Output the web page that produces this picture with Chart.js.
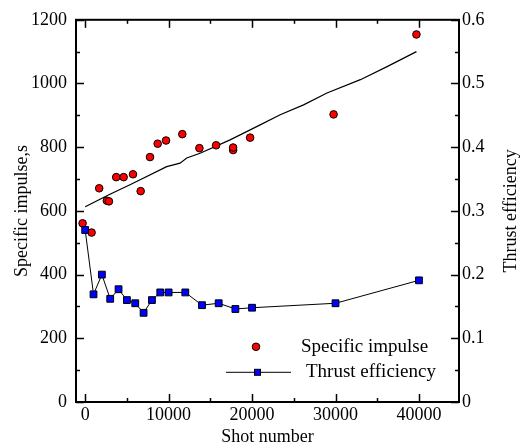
<!DOCTYPE html>
<html><head><meta charset="utf-8">
<script src="https://cdn.jsdelivr.net/npm/chart.js@4/dist/chart.umd.min.js"></script>
<style>html,body{margin:0;padding:0;background:#fff}#wrap{width:521px;height:447px}</style>
</head><body><div id="wrap"><canvas id="c" width="521" height="447"></canvas></div>
<script>
// ---- data ----
const impulseShots = [-310, 770, 1680, 2600, 2850, 3720, 4610, 5730, 6650, 7770, 8690, 9690, 11640, 13690, 15690, 17730, 17730, 19770, 29770, 39700];
const specificImpulse = [561, 532, 671, 632, 630, 706, 706, 715, 662, 769, 811, 821, 841, 797, 806, 791, 799, 830, 903, 1154];
const trendShots = [0, 2970, 5370, 9770, 11370, 12170, 13770, 17370, 20970, 23370, 26170, 28980, 32980, 36180, 39700];
const trendImpulse = [613, 652, 682, 739, 750, 766, 781, 823, 870, 902, 933, 970, 1012, 1053, 1100];
const effShots = [0, 1000, 2000, 3000, 4000, 5000, 6000, 7000, 8000, 9000, 10000, 12000, 14000, 16000, 18000, 20000, 30000, 40000];
const thrustEfficiency = [0.270, 0.169, 0.200, 0.162, 0.177, 0.160, 0.155, 0.140, 0.160, 0.172, 0.172, 0.172, 0.152, 0.155, 0.146, 0.148, 0.155, 0.191];

const xTicks = [0, 10000, 20000, 30000, 40000];
const xTickLabels = ['0', '10000', '20000', '30000', '40000'];
const xMinorTicks = [5000, 15000, 25000, 35000];
const yTicks = [0, 200, 400, 600, 800, 1000, 1200];
const yTickLabels = ['0', '200', '400', '600', '800', '1000', '1200'];
const yMinorTicks = [100, 300, 500, 700, 900, 1100];
const y1Ticks = [0, 0.1, 0.2, 0.3, 0.4, 0.5, 0.6];
const y1TickLabels = ['0', '0.1', '0.2', '0.3', '0.4', '0.5', '0.6'];
const y1MinorTicks = [0.05, 0.15, 0.25, 0.35, 0.45, 0.55];

const FONT = "'Liberation Serif', 'Times New Roman', serif";
Chart.defaults.font.family = FONT;
Chart.defaults.color = '#000';

const frameTicks = {
  id: 'frameTicks',
  afterDraw(chart) {
    const ctx = chart.ctx, a = chart.chartArea;
    const sx = chart.scales.x, sy = chart.scales.y, sy1 = chart.scales.y1;
    ctx.save();
    ctx.strokeStyle = '#000';
    ctx.lineWidth = 1.5;
    const tick = (x1, y1, x2, y2) => { ctx.beginPath(); ctx.moveTo(x1, y1); ctx.lineTo(x2, y2); ctx.stroke(); };
    xTicks.forEach(v => { const p = Math.round(sx.getPixelForValue(v)) + 0.5; tick(p, a.bottom, p, a.bottom - 8); tick(p, a.top, p, a.top + 8); });
    xMinorTicks.forEach(v => { const p = Math.round(sx.getPixelForValue(v)) + 0.5; tick(p, a.bottom, p, a.bottom - 4); tick(p, a.top, p, a.top + 4); });
    yTicks.forEach(v => { const p = Math.round(sy.getPixelForValue(v)) + 0.5; tick(a.left, p, a.left + 8, p); });
    yMinorTicks.forEach(v => { const p = Math.round(sy.getPixelForValue(v)) + 0.5; tick(a.left, p, a.left + 4, p); });
    y1Ticks.forEach(v => { const p = Math.round(sy1.getPixelForValue(v)) + 0.5; tick(a.right, p, a.right - 8, p); });
    y1MinorTicks.forEach(v => { const p = Math.round(sy1.getPixelForValue(v)) + 0.5; tick(a.right, p, a.right - 4, p); });
    ctx.lineWidth = 2;
    ctx.strokeRect(a.left, a.top, a.right - a.left, a.bottom - a.top);

    // right axis title (reads bottom to top)
    ctx.fillStyle = '#000';
    ctx.font = '18px ' + FONT;
    ctx.textAlign = 'center';
    ctx.textBaseline = 'middle';
    ctx.save();
    ctx.translate(511, (a.top + a.bottom) / 2);
    ctx.rotate(-Math.PI / 2);
    ctx.fillText('Thrust efficiency', 0, 0);
    ctx.restore();

    // legend
    const lx = a.left, ly = a.top;
    ctx.font = '19px ' + FONT;
    ctx.textAlign = 'left';
    ctx.beginPath();
    ctx.arc(lx + 180, ly + 327, 3.8, 0, Math.PI * 2);
    ctx.fillStyle = '#ff0000'; ctx.fill();
    ctx.lineWidth = 1; ctx.strokeStyle = '#000'; ctx.stroke();
    ctx.fillStyle = '#000';
    ctx.fillText('Specific impulse', lx + 225, ly + 327);
    ctx.lineWidth = 1;
    tick(lx + 150, ly + 352.5, lx + 215, ly + 352.5);
    ctx.fillStyle = '#0000ff';
    ctx.fillRect(lx + 178.5, ly + 349.5, 6, 6);
    ctx.strokeRect(lx + 178.5, ly + 349.5, 6, 6);
    ctx.fillStyle = '#000';
    ctx.fillText('Thrust efficiency', lx + 230, ly + 352);
    ctx.restore();
  }
};

new Chart(document.getElementById('c'), {
  type: 'line',
  data: {
    datasets: [
      {
        label: 'Thrust efficiency',
        type: 'line',
        yAxisID: 'y1',
        data: effShots.map((x, i) => ({ x, y: thrustEfficiency[i] })),
        borderColor: '#000',
        borderWidth: 1,
        pointStyle: 'rect',
        pointRadius: 4.8,
        pointBackgroundColor: '#0000ff',
        pointBorderColor: '#000',
        pointBorderWidth: 1,
        tension: 0,
        fill: false
      },
      {
        label: 'Specific impulse',
        type: 'scatter',
        yAxisID: 'y',
        data: impulseShots.map((x, i) => ({ x, y: specificImpulse[i] })),
        backgroundColor: '#ff0000',
        borderColor: '#000',
        borderWidth: 1,
        pointRadius: 3.8
      },
      {
        label: 'trend',
        type: 'line',
        yAxisID: 'y',
        data: trendShots.map((x, i) => ({ x, y: trendImpulse[i] })),
        borderColor: '#000',
        borderWidth: 1.2,
        pointRadius: 0,
        tension: 0,
        fill: false
      }
    ]
  },
  options: {
    responsive: false,
    devicePixelRatio: 1,
    animation: false,
    layout: { padding: { top: 19, left: 0, right: 0, bottom: 0 } },
    plugins: { legend: { display: false }, tooltip: { enabled: false } },
    scales: {
      x: {
        type: 'linear', position: 'bottom', min: -1100, max: 44800,
        grid: { display: false, drawTicks: false }, border: { display: false },
        afterBuildTicks: s => { s.ticks = xTicks.map(v => ({ value: v })); },
        afterFit: s => { s.height = 45; },
        ticks: { font: { size: 18 }, padding: 2, maxRotation: 0, autoSkip: false, callback: (v, i) => xTickLabels[i] },
        title: { display: true, text: 'Shot number', font: { size: 18 }, padding: { top: 0, bottom: -1 } }
      },
      y: {
        type: 'linear', position: 'left', min: 0, max: 1200,
        grid: { display: false, drawTicks: false }, border: { display: false },
        afterBuildTicks: s => { s.ticks = yTicks.map(v => ({ value: v })); },
        afterFit: s => { s.width = 76; },
        ticks: { font: { size: 18 }, padding: 9, autoSkip: false, callback: (v, i) => yTickLabels[i] },
        title: { display: true, text: 'Specific impulse,s', font: { size: 18 }, padding: { top: 11, bottom: 0 } }
      },
      y1: {
        type: 'linear', position: 'right', min: 0, max: 0.6,
        grid: { display: false, drawTicks: false }, border: { display: false },
        afterBuildTicks: s => { s.ticks = y1Ticks.map(v => ({ value: v })); },
        afterFit: s => { s.width = 62; },
        ticks: { font: { size: 18 }, padding: 3, autoSkip: false, callback: (v, i) => y1TickLabels[i] },
        title: { display: false }
      }
    }
  },
  plugins: [frameTicks]
});
</script>
</body></html>
